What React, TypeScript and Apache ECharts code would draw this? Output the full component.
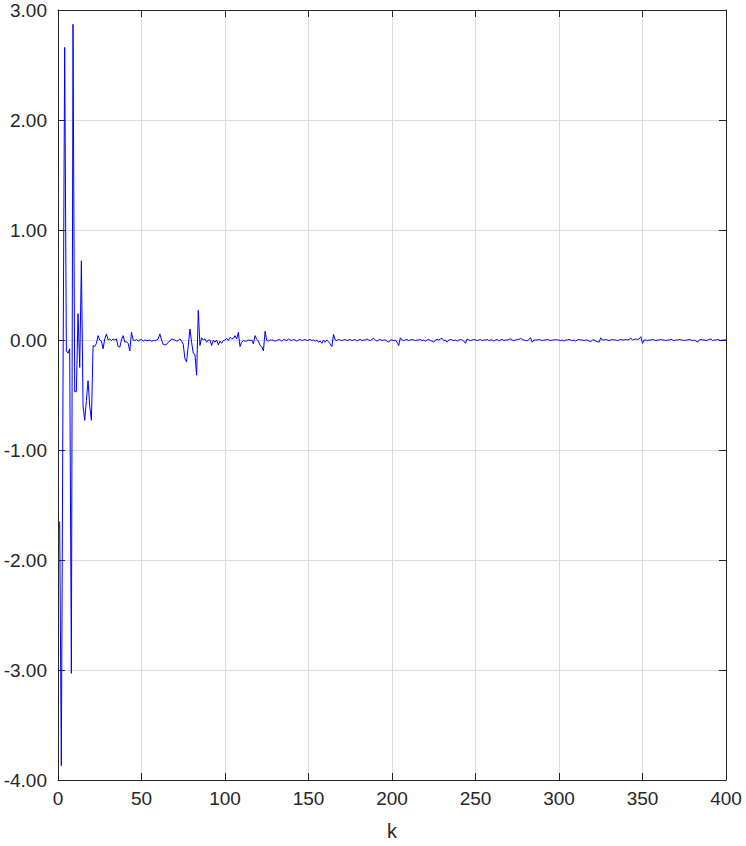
import React, { useEffect, useRef } from "react";
import * as echarts from "echarts";

// sample index k (1..400)
const firstK = 1;

// series values, k = 1..400
const values: number[] = [
  // 1-10
  -1.65, -3.87, -0.4, 2.66, -0.1, -0.12, -0.08, -3.03, 2.87, -0.47,
  // 11-20
  -0.47, 0.24, -0.25, 0.72, -0.6, -0.73, -0.55, -0.37, -0.6, -0.73,
  // 21-30
  -0.05, -0.06, -0.03, 0.04, 0.0, -0.01, -0.08, 0.01, 0.055, 0.0,
  // 31-40
  0.01, -0.005, 0.01, 0.0, 0.01, -0.06, -0.065, 0.0, 0.04, -0.02,
  // 41-50
  -0.015, -0.03, -0.1, 0.07, 0.0, -0.005, 0.005, -0.01, 0.0, 0.005,
  // 51-60
  -0.01, 0.0, -0.005, -0.005, 0.0, -0.01, -0.005, -0.005, 0.0, 0.01,
  // 61-70
  0.055, 0.0, -0.04, -0.045, -0.04, -0.02, -0.01, 0.01, 0.005, 0.0,
  // 71-80
  -0.01, -0.005, 0.01, -0.01, -0.04, -0.17, -0.2, -0.05, 0.1, -0.02,
  // 81-90
  -0.12, -0.13, -0.32, 0.27, -0.05, 0.02, 0.0, 0.01, -0.02, 0.0,
  // 91-100
  0.0, -0.05, 0.0, -0.02, 0.0, -0.045, -0.01, -0.03, -0.005, 0.0,
  // 101-110
  0.015, -0.005, 0.025, 0.01, 0.015, 0.04, 0.01, 0.07, -0.06, -0.02,
  // 111-120
  -0.005, -0.01, -0.01, 0.0, -0.005, 0.0, -0.035, 0.04, 0.005, -0.01,
  // 121-130
  -0.05, -0.06, -0.1, 0.08, -0.005, -0.01, 0.0, 0.0, -0.005, -0.01,
  // 131-140
  -0.005, 0.005, 0.0, -0.01, 0.005, 0.0, -0.005, 0.01, 0.0, -0.005,
  // 141-150
  0.005, 0.0, -0.01, 0.0, 0.005, -0.005, 0.0, 0.005, -0.005, 0.0,
  // 151-160
  0.005, -0.005, 0.0, -0.01, 0.0, -0.02, -0.01, -0.03, 0.0, -0.02,
  // 161-170
  0.0, -0.015, -0.035, -0.06, 0.05, 0.0, -0.005, 0.005, 0.0, -0.005,
  // 171-180
  0.0, 0.005, -0.005, 0.0, 0.005, -0.005, 0.0, 0.005, -0.01, 0.0,
  // 181-190
  0.005, -0.005, 0.0, 0.0, 0.01, 0.0, -0.005, 0.005, 0.015, 0.0,
  // 191-200
  -0.01, 0.0, 0.005, -0.005, 0.0, 0.0, -0.01, -0.02, 0.0, 0.0,
  // 201-210
  -0.005, 0.0, -0.02, -0.05, 0.02, 0.0, -0.005, 0.0, 0.005, -0.005,
  // 211-220
  0.0, 0.005, 0.0, -0.005, 0.0, 0.0, 0.005, -0.005, 0.0, -0.01,
  // 221-230
  0.0, 0.005, -0.005, -0.01, -0.02, 0.0, 0.005, 0.0, 0.01, 0.015,
  // 231-240
  -0.005, 0.0, -0.02, 0.0, 0.005, 0.0, -0.005, 0.0, -0.01, 0.0,
  // 241-250
  0.005, 0.0, -0.01, -0.03, 0.01, 0.0, -0.005, 0.0, 0.005, 0.0,
  // 251-260
  -0.005, 0.0, 0.005, -0.005, 0.0, 0.0, 0.005, -0.005, 0.0, 0.0,
  // 261-270
  -0.01, 0.0, 0.005, -0.01, 0.0, 0.005, -0.005, 0.0, 0.0, 0.005,
  // 271-280
  0.01, 0.0, -0.005, 0.0, 0.005, 0.005, 0.015, 0.005, 0.0, -0.005,
  // 281-290
  -0.005, 0.005, 0.02, -0.02, 0.0, 0.0, 0.0, 0.005, 0.0, -0.005,
  // 291-300
  0.0, 0.0, 0.005, 0.0, -0.005, 0.0, 0.0, 0.005, 0.0, 0.0,
  // 301-310
  -0.005, 0.0, -0.01, 0.0, 0.0, 0.005, 0.0, -0.005, 0.0, -0.01,
  // 311-320
  0.0, 0.005, 0.0, 0.0, -0.005, 0.0, 0.0, -0.01, -0.015, 0.0,
  // 321-330
  0.0, -0.01, -0.015, -0.02, 0.02, 0.0, 0.0, 0.005, 0.0, -0.005,
  // 331-340
  0.0, 0.005, 0.0, 0.0, -0.005, 0.0, 0.005, 0.0, 0.0, 0.005,
  // 341-350
  0.0, 0.005, 0.015, 0.0, 0.005, 0.01, 0.005, 0.01, 0.03, -0.03,
  // 351-360
  0.0, 0.0, -0.005, 0.0, 0.0, 0.005, 0.0, -0.005, 0.0, 0.0,
  // 361-370
  0.005, 0.0, 0.0, -0.005, 0.0, 0.0, 0.005, 0.0, -0.005, 0.0,
  // 371-380
  0.0, 0.005, 0.0, 0.0, -0.005, 0.0, 0.0, 0.005, 0.0, -0.005,
  // 381-390
  0.0, -0.01, -0.02, 0.0, 0.005, 0.0, 0.0, -0.005, 0.0, 0.005,
  // 391-400
  0.01, -0.005, 0.0, 0.0, 0.005, 0.0, -0.005, 0.0, 0.0, 0.0,
];

const xTicks = [0, 50, 100, 150, 200, 250, 300, 350, 400];
const yTicks = [-4, -3, -2, -1, 0, 1, 2, 3];

const FONT = "'Liberation Sans', Arial, Helvetica, sans-serif";
const TEXT = "#262626";
const GRID = "#dcdcdc";

export default function App() {
  const ref = useRef<HTMLDivElement>(null);

  useEffect(() => {
    if (!ref.current) return;
    const chart = echarts.init(ref.current, undefined, { renderer: "svg" });
    const data = values.map((v, i) => [firstK + i, v]);
    const xMin = xTicks[0];
    const xMax = xTicks[xTicks.length - 1];
    const yMin = yTicks[0];
    const yMax = yTicks[yTicks.length - 1];
    const xInt = xTicks[1] - xTicks[0];
    const yInt = yTicks[1] - yTicks[0];

    const axisLine = { show: true, onZero: false, lineStyle: { color: TEXT, width: 1 } };
    const tick = { show: true, inside: true, length: 7, lineStyle: { color: TEXT, width: 1 } };

    chart.setOption({
      animation: false,
      backgroundColor: "#ffffff",
      grid: { left: 58, right: 20, top: 10, bottom: 63, containLabel: false },
      xAxis: [
        {
          type: "value",
          min: xMin,
          max: xMax,
          interval: xInt,
          position: "bottom",
          axisLine,
          axisTick: tick,
          axisLabel: { color: TEXT, fontSize: 19, fontFamily: FONT, margin: 9 },
          splitLine: { show: true, lineStyle: { color: GRID, width: 1 } },
          name: "k",
          nameLocation: "middle",
          nameGap: 41,
          nameTextStyle: { color: TEXT, fontSize: 20, fontFamily: FONT },
        },
        {
          type: "value",
          min: xMin,
          max: xMax,
          interval: xInt,
          position: "top",
          axisLine,
          axisTick: tick,
          axisLabel: { show: false },
          splitLine: { show: false },
        },
      ],
      yAxis: [
        {
          type: "value",
          min: yMin,
          max: yMax,
          interval: yInt,
          position: "left",
          axisLine,
          axisTick: tick,
          axisLabel: {
            color: TEXT,
            fontSize: 19,
            fontFamily: FONT,
            margin: 11,
            formatter: (v: number) => v.toFixed(2),
          },
          splitLine: { show: true, lineStyle: { color: GRID, width: 1 } },
        },
        {
          type: "value",
          min: yMin,
          max: yMax,
          interval: yInt,
          position: "right",
          axisLine,
          axisTick: tick,
          axisLabel: { show: false },
          splitLine: { show: false },
        },
      ],
      series: [
        {
          type: "line",
          xAxisIndex: 0,
          yAxisIndex: 0,
          data,
          showSymbol: false,
          symbol: "none",
          lineStyle: { color: "#0000ff", width: 1 },
          z: 3,
        },
      ],
    });
    return () => chart.dispose();
  }, []);

  return (
    <div
      ref={ref}
      style={{ position: "fixed", left: 0, top: 0, width: 746, height: 846, background: "#fff" }}
    />
  );
}
